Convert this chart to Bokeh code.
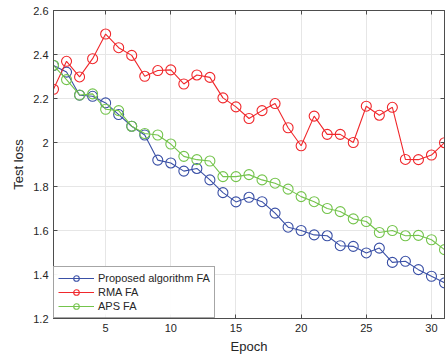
from bokeh.plotting import figure
from bokeh.models import (ColumnDataSource, Range1d, FixedTicker, LinearAxis,
                          CustomJSTickFormatter, Legend, LegendItem)
from bokeh.embed import file_html
from bokeh.resources import INLINE

epochs = list(range(1, 32))
proposed = [2.35, 2.32, 2.215, 2.21, 2.18, 2.127, 2.074, 2.034, 1.92, 1.907,
            1.87, 1.882, 1.83, 1.772, 1.73, 1.751, 1.731, 1.679, 1.615, 1.60,
            1.58, 1.576, 1.531, 1.528, 1.498, 1.52, 1.455, 1.46, 1.422, 1.392, 1.362]
rma = [2.242, 2.369, 2.298, 2.381, 2.493, 2.431, 2.396, 2.301, 2.327, 2.33,
       2.266, 2.307, 2.296, 2.203, 2.162, 2.109, 2.145, 2.177, 2.067, 1.985,
       2.12, 2.037, 2.037, 2.0, 2.165, 2.124, 2.16, 1.923, 1.922, 1.943, 1.999]
aps = [2.351, 2.286, 2.216, 2.221, 2.151, 2.145, 2.074, 2.041, 2.034, 1.993,
       1.937, 1.922, 1.916, 1.845, 1.845, 1.854, 1.83, 1.815, 1.788, 1.754,
       1.731, 1.70, 1.686, 1.653, 1.641, 1.591, 1.60, 1.576, 1.578, 1.558, 1.513]
series_names = ["Proposed algorithm FA", "RMA FA", "APS FA"]
x_ticks = [5, 10, 15, 20, 25, 30]
y_ticks = [1.2, 1.4, 1.6, 1.8, 2.0, 2.2, 2.4, 2.6]

colors = ["#3A50A6", "#F0282C", "#74C44C"]
FONT = "Liberation Sans"
TXT = "#262626"
AXC = "#4d4d4d"

p = figure(width=448, height=356, output_backend="svg", toolbar_location=None,
           x_range=Range1d(1, 31), y_range=Range1d(1.2, 2.6),
           min_border_left=53, min_border_right=4, min_border_top=10,
           min_border_bottom=37)
p.background_fill_color = "white"
p.border_fill_color = "white"
p.outline_line_color = AXC
p.outline_line_width = 1

fmt = CustomJSTickFormatter(code="return String(Math.round(tick*10)/10);")
blank = CustomJSTickFormatter(code="return '';")

top_ax = LinearAxis(ticker=FixedTicker(ticks=x_ticks), formatter=blank,
                    major_label_text_font_size="0px", major_label_standoff=0)
right_ax = LinearAxis(ticker=FixedTicker(ticks=y_ticks), formatter=blank,
                      major_label_text_font_size="0px", major_label_standoff=0)
p.add_layout(top_ax, "above")
p.add_layout(right_ax, "right")

for ax in p.xaxis:
    ax.ticker = FixedTicker(ticks=x_ticks)
for ax in p.yaxis:
    ax.ticker = FixedTicker(ticks=y_ticks)
p.below[0].axis_label = "Epoch"
p.left[0].axis_label = "Test loss"
p.left[0].formatter = fmt

for ax in p.xaxis + p.yaxis:
    ax.axis_line_color = AXC
    ax.major_tick_line_color = AXC
    ax.major_tick_in = 4
    ax.major_tick_out = 0
    ax.minor_tick_line_color = None
    ax.major_label_text_font = FONT
    ax.major_label_text_color = TXT
    ax.axis_label_text_font = FONT
    ax.axis_label_text_font_size = "13px"
    ax.axis_label_text_font_style = "normal"
    ax.axis_label_text_color = TXT
    ax.axis_label_standoff = 4
for ax in [p.below[0], p.left[0]]:
    ax.major_label_text_font_size = "11px"
    ax.major_label_standoff = 5

p.xgrid.ticker = FixedTicker(ticks=x_ticks)
p.ygrid.ticker = FixedTicker(ticks=y_ticks)
p.grid.grid_line_color = "#e6e6e6"
p.grid.grid_line_width = 1

src = ColumnDataSource(dict(x=epochs, proposed=proposed, rma=rma, aps=aps))
items = []
for key, name, c in zip(["proposed", "rma", "aps"], series_names, colors):
    l = p.line("x", key, source=src, line_color=c, line_width=1.1)
    s = p.scatter("x", key, source=src, marker="circle", size=10,
                  fill_color=None, line_color=c, line_width=1.1)
    items.append(LegendItem(label=name, renderers=[l, s]))

legend = Legend(items=items, location="bottom_left", margin=0, padding=4,
                spacing=0, glyph_width=36, glyph_height=14, label_standoff=4,
                label_text_font=FONT, label_text_font_size="11px",
                label_text_color=TXT, border_line_color=AXC,
                border_line_width=1, label_height=14)
p.add_layout(legend)

open("out.html", "w").write(file_html(p, INLINE))
